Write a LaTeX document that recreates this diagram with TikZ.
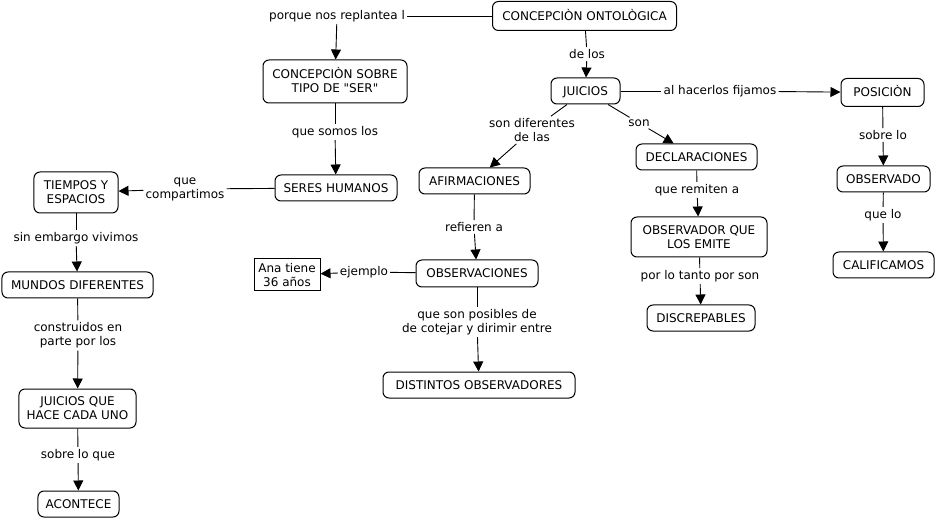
\documentclass[tikz,border=0pt]{standalone}
\usepackage{fontspec}
\newfontfamily\dvs{DejaVu Sans}
\usetikzlibrary{arrows.meta}
\begin{document}
\begin{tikzpicture}[x=1bp,y=-1bp,
  every node/.style={font=\dvs\fontsize{12bp}{14bp}\selectfont},
  box/.style={draw, rounded corners=6bp, line width=1bp, align=center, inner sep=0pt, text height=8.75bp, text depth=0bp},
  box2/.style={box, text height=22.75bp, text depth=0bp},
  lbl/.style={align=center, inner sep=2bp},
  con/.style={line width=0.9bp},
  arr/.style={con, -{Triangle[length=10bp,width=10bp]}}
]
\useasboundingbox (0,0) rectangle (937,520);

% boxes
\node[box, minimum width=184bp, minimum height=29bp] (onto) at (584.5,16) {CONCEPCIÒN ONTOLÒGICA};
\node[box2, minimum width=144bp, minimum height=43bp] (concep) at (335,81.5) {CONCEPCIÒN SOBRE\\TIPO DE "SER"};
\node[box, minimum width=122bp, minimum height=26bp] (seres) at (336,188) {SERES HUMANOS};
\node[box2, minimum width=84bp, minimum height=41bp] (tiempos) at (76,192.5) {TIEMPOS Y\\ESPACIOS};
\node[box, minimum width=151bp, minimum height=26bp] (mundos) at (77.5,285) {MUNDOS DIFERENTES};
\node[box2, minimum width=117bp, minimum height=39bp] (juiciosque) at (77.5,408.5) {JUICIOS QUE\\HACE CADA UNO};
\node[box, minimum width=81bp, minimum height=26bp] (acontece) at (78.5,504) {ACONTECE};
\node[box, minimum width=69bp, minimum height=26bp] (juicios) at (585.5,91) {JUICIOS};
\node[box, minimum width=83bp, minimum height=28bp] (posicion) at (882.5,92.5) {POSICIÒN};
\node[box, minimum width=93bp, minimum height=26bp] (observado) at (883.5,179) {OBSERVADO};
\node[box, minimum width=101bp, minimum height=26bp] (califica) at (883.5,265) {CALIFICAMOS};
\node[box, minimum width=111bp, minimum height=26bp] (afirm) at (474.5,181) {AFIRMACIONES};
\node[box, minimum width=122bp, minimum height=27bp] (observaciones) at (477,273.5) {OBSERVACIONES};
\node[box2, rounded corners=0pt, minimum width=66bp, minimum height=32bp] (ana) at (287,275) {Ana tiene\\36 años};
\node[box, minimum width=192bp, minimum height=26bp] (distintos) at (479,385) {DISTINTOS OBSERVADORES};
\node[box, minimum width=121bp, minimum height=26bp] (decl) at (696.5,157) {DECLARACIONES};
\node[box2, minimum width=136bp, minimum height=40bp] (obsemite) at (699,237) {OBSERVADOR QUE\\LOS EMITE};
\node[box, minimum width=108bp, minimum height=26bp] (discrep) at (701,318) {DISCREPABLES};

% labels
\node[lbl] (lporque) at (337,16) {porque nos replantea l};
\node[lbl] (lsomos) at (335,132) {que somos los};
\node[lbl] (lcompart) at (185,189) {que\\compartimos};
\node[lbl] (lsin) at (76,238) {sin embargo vivimos};
\node[lbl] (lconstr) at (78,335.5) {construidos en\\parte por los};
\node[lbl] (lsobreque) at (78,455) {sobre lo que};
\node[lbl] (ldelos) at (587,54) {de los};
\node[lbl] (lalhac) at (720,91) {al hacerlos fijamos};
\node[lbl] (lsobrelo) at (883,135) {sobre lo};
\node[lbl] (lquelo) at (883,215) {que lo};
\node[lbl] (lsondif) at (532,130) {son diferentes\\de las};
\node[lbl] (lrefieren) at (474,227) {refieren a};
\node[lbl] (lejemplo) at (364,272) {ejemplo};
\node[lbl] (lposibles) at (477,322) {que son posibles de\\de cotejar y dirimir entre};
\node[lbl] (lson) at (639,123) {son};
\node[lbl] (lremiten) at (697,190) {que remiten a};
\node[lbl] (lportanto) at (700,276) {por lo tanto por son};

% connectors
\draw[con] (onto) -- (lporque);
\draw[arr] (lporque) -- (concep);
\draw[con] (concep) -- (lsomos);
\draw[arr] (lsomos) -- (seres);
\draw[con] (seres) -- (lcompart);
\draw[arr] (lcompart) -- (tiempos);
\draw[con] (tiempos) -- (lsin);
\draw[arr] (lsin) -- (mundos);
\draw[con] (mundos) -- (lconstr);
\draw[arr] (lconstr) -- (juiciosque);
\draw[con] (juiciosque) -- (lsobreque);
\draw[arr] (lsobreque) -- (acontece);
\draw[con] (onto) -- (ldelos);
\draw[arr] (ldelos) -- (juicios);
\draw[con] (juicios) -- (lalhac);
\draw[arr] (lalhac) -- (posicion);
\draw[con] (posicion) -- (lsobrelo);
\draw[arr] (lsobrelo) -- (observado);
\draw[con] (observado) -- (lquelo);
\draw[arr] (lquelo) -- (califica);
\draw[con] (juicios) -- (lsondif);
\draw[arr] (lsondif) -- (afirm);
\draw[con] (afirm) -- (lrefieren);
\draw[arr] (lrefieren) -- (observaciones);
\draw[con] (observaciones) -- (lejemplo);
\draw[arr] (lejemplo) -- (ana);
\draw[con] (observaciones) -- (lposibles);
\draw[arr] (lposibles) -- (distintos);
\draw[con] (juicios) -- (lson);
\draw[arr] (lson) -- (decl);
\draw[con] (decl) -- (lremiten);
\draw[arr] (lremiten) -- (obsemite);
\draw[con] (obsemite) -- (lportanto);
\draw[arr] (lportanto) -- (discrep);
\end{tikzpicture}
\end{document}
